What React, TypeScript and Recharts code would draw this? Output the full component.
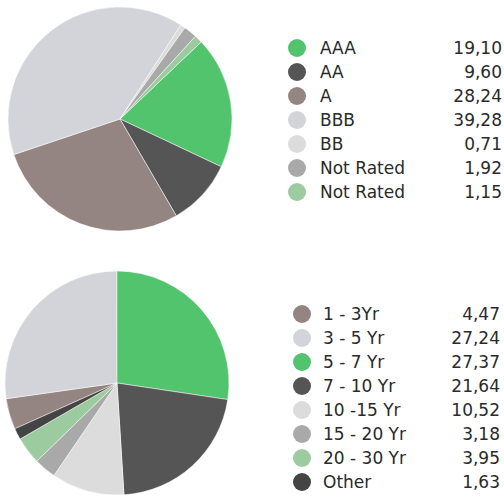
import { PieChart, Pie, Cell } from "recharts";

const ratingNames = ["AAA", "AA", "A", "BBB", "BB", "Not Rated", "Not Rated"];
const ratingValues = [19.1, 9.6, 28.24, 39.28, 0.71, 1.92, 1.15];
const ratingColors = ["#53c46e", "#555555", "#948583", "#d3d4d9", "#dcdcdc", "#a9a9a9", "#9bcb9f"];

const maturityNames = ["1 - 3Yr", "3 - 5 Yr", "5 - 7 Yr", "7 - 10 Yr", "10 -15 Yr", "15 - 20 Yr", "20 - 30 Yr", "Other"];
const maturityValues = [4.47, 27.24, 27.37, 21.64, 10.52, 3.18, 3.95, 1.63];
const maturityColors = ["#948583", "#d3d4d9", "#53c46e", "#555555", "#dcdcdc", "#a9a9a9", "#9bcb9f", "#444444"];

const ratingData = ratingNames.map((name, i) => ({ name, value: ratingValues[i] }));
const maturityData = maturityNames.map((name, i) => ({ name, value: maturityValues[i] }));

const fmt = (v: number) => v.toFixed(2).replace(".", ",");

function LegendBlock({
  names,
  values,
  colors,
  top,
  dotX,
  textX,
  right,
}: {
  names: string[];
  values: number[];
  colors: string[];
  top: number;
  dotX: number;
  textX: number;
  right: number;
}) {
  const rowH = 24;
  return (
    <>
      {names.map((n, i) => (
        <div key={i}>
          <div
            style={{
              position: "absolute",
              left: dotX - 9,
              top: top + i * rowH - 9,
              width: 18,
              height: 18,
              borderRadius: 9,
              background: colors[i],
            }}
          />
          <div
            style={{
              position: "absolute",
              left: textX,
              top: top + i * rowH - 11,
              lineHeight: "22px",
              fontSize: 17,
              color: "#2a2a2a",
              whiteSpace: "nowrap",
            }}
          >
            {n}
          </div>
          <div
            style={{
              position: "absolute",
              left: right - 80,
              width: 80,
              textAlign: "right",
              top: top + i * rowH - 11,
              lineHeight: "22px",
              fontSize: 17,
              color: "#2a2a2a",
            }}
          >
            {fmt(values[i])}
          </div>
        </div>
      ))}
    </>
  );
}

export default function App() {
  return (
    <div style={{ position: "absolute", left: 0, top: 0, width: 504, height: 497, background: "#fff", fontFamily: "'DejaVu Sans', sans-serif" }}>
      <PieChart width={504} height={497} margin={{ top: 0, right: 0, bottom: 0, left: 0 }}>
        <Pie
          data={ratingData}
          dataKey="value"
          nameKey="name"
          cx={120}
          cy={119}
          outerRadius={112}
          startAngle={43.5}
          endAngle={-316.5}
          stroke="#fff"
          strokeWidth={0.5}
          isAnimationActive={false}
        >
          {ratingData.map((_, i) => (
            <Cell key={i} fill={ratingColors[i]} />
          ))}
        </Pie>
        <Pie
          data={maturityData}
          dataKey="value"
          nameKey="name"
          cx={117}
          cy={383}
          outerRadius={112}
          startAngle={204.16}
          endAngle={-155.84}
          stroke="#fff"
          strokeWidth={0.5}
          isAnimationActive={false}
        >
          {maturityData.map((_, i) => (
            <Cell key={i} fill={maturityColors[i]} />
          ))}
        </Pie>
      </PieChart>
      <div style={{ position: "absolute", left: 0, top: 0, width: 504, height: 497, pointerEvents: "none" }}>
        <LegendBlock names={ratingNames} values={ratingValues} colors={ratingColors} top={48} dotX={297} textX={320} right={502} />
        <LegendBlock names={maturityNames} values={maturityValues} colors={maturityColors} top={314} dotX={302} textX={323} right={500} />
      </div>
    </div>
  );
}
